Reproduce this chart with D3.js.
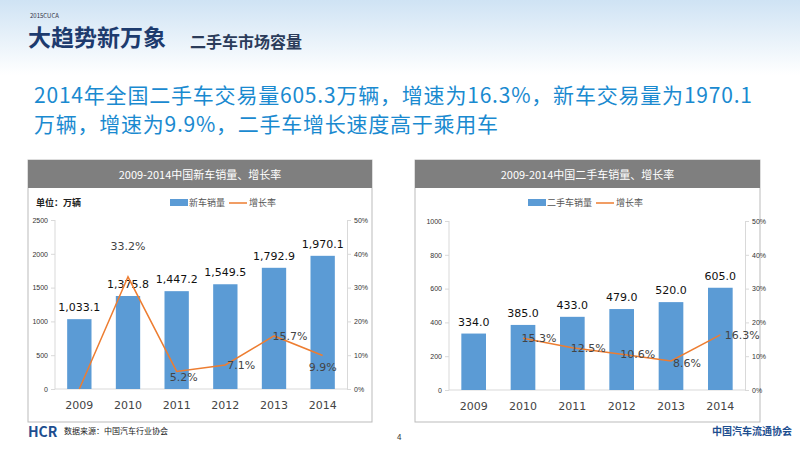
<!DOCTYPE html>
<html><head><meta charset="utf-8">
<script src="https://cdn.jsdelivr.net/npm/d3@7"></script>
<style>body{margin:0;background:#fff;font-family:"Noto Sans CJK SC","Noto Sans",sans-serif;}</style>
</head><body><svg id="c" width="800" height="450"></svg>
<script>
const years = ["2009", "2010", "2011", "2012", "2013", "2014"];
const newSales = [1033.1, 1375.8, 1447.2, 1549.5, 1792.9, 1970.1];
const newGrowth = [0, 33.2, 5.2, 7.1, 15.7, 9.9];
const newGrowthLabels = [null, "33.2%", "5.2%", "7.1%", "15.7%", "9.9%"];
const usedSales = [334.0, 385.0, 433.0, 479.0, 520.0, 605.0];
const usedGrowth = [null, 15.3, 12.5, 10.6, 8.6, 16.3];
const usedGrowthLabels = [null, "15.3%", "12.5%", "10.6%", "8.6%", "16.3%"];

const svg = d3.select("#c");
const font = '"Noto Sans CJK SC",sans-serif';

// top banner
const defs = svg.append("defs");
const g1 = defs.append("linearGradient").attr("id", "ban").attr("x1", 0).attr("y1", 0).attr("x2", 0).attr("y2", 1);
g1.append("stop").attr("offset", 0).attr("stop-color", "#cfe3f4");
g1.append("stop").attr("offset", 1).attr("stop-color", "#ffffff");
svg.append("rect").attr("width", 800).attr("height", 75).attr("fill", "url(#ban)");
svg.append("text").attr("x", 30).attr("y", 18).attr("font-size", 6).attr("fill", "#334").text("2015CUCA");
svg.append("text").attr("x", 28).attr("y", 46).attr("font-size", 23).attr("font-weight", "bold")
  .attr("fill", "#1d3b6e").attr("font-family", font).text("大趋势新万象");
svg.append("text").attr("x", 190).attr("y", 48).attr("font-size", 16).attr("font-weight", "bold")
  .attr("fill", "#2b3c5a").attr("font-family", font).text("二手车市场容量");

svg.append("text").attr("x", 34).attr("y", 103).attr("font-size", 21).attr("fill", "#1a8ad0")
  .attr("font-family", font).attr("textLength", 718).text("2014年全国二手车交易量605.3万辆，增速为16.3%，新车交易量为1970.1");
svg.append("text").attr("x", 34).attr("y", 132).attr("font-size", 21).attr("fill", "#1a8ad0")
  .attr("font-family", font).attr("textLength", 464).text("万辆，增速为9.9%，二手车增长速度高于乘用车");

function panel(o) {
  const g = svg.append("g");
  g.append("rect").attr("x", o.x0).attr("y", 160).attr("width", o.x1 - o.x0).attr("height", 262)
    .attr("fill", "#fff").attr("stroke", "#bbb");
  g.append("rect").attr("x", o.x0).attr("y", 160).attr("width", o.x1 - o.x0).attr("height", 28).attr("fill", "#7f7f7f");
  g.append("text").attr("x", (o.x0 + o.x1) / 2).attr("y", 179).attr("text-anchor", "middle")
    .attr("fill", "#fff").attr("font-size", 11).attr("font-family", font).text(o.title);

  const x = d3.scaleBand().domain(years).range([o.l, o.r]).paddingInner(0.5).paddingOuter(0.25);
  const y = d3.scaleLinear().domain([0, o.max]).range([o.bottom, o.top]);
  const y2 = d3.scaleLinear().domain([0, 50]).range([o.bottom, o.top]);

  const ax = g.append("g").attr("transform", `translate(${o.l},0)`)
    .call(d3.axisLeft(y).ticks(5).tickSize(4).tickSizeOuter(0).tickFormat(d3.format("d")));
  const ax2 = g.append("g").attr("transform", `translate(${o.r},0)`)
    .call(d3.axisRight(y2).ticks(5).tickSize(4).tickSizeOuter(0).tickFormat(d => d + "%"));
  [ax, ax2].forEach(a => {
    a.selectAll("line,path").attr("stroke", "#d9d9d9");
    a.selectAll("text").attr("font-size", 7).attr("fill", "#333").attr("font-family", "Liberation Sans");
  });
  ax.select(".domain").remove();
  g.append("line").attr("x1", o.l).attr("x2", o.l).attr("y1", o.top).attr("y2", o.bottom).attr("stroke", "#d9d9d9");
  g.append("line").attr("x1", o.l).attr("x2", o.r).attr("y1", o.bottom).attr("y2", o.bottom).attr("stroke", "#d9d9d9");

  g.selectAll(".bar").data(o.sales).join("rect")
    .attr("x", (d, i) => x(years[i])).attr("y", d => y(d))
    .attr("width", x.bandwidth()).attr("height", d => o.bottom - y(d)).attr("fill", "#5b9bd5");
  g.selectAll(".bl").data(o.sales).join("text")
    .attr("x", (d, i) => x(years[i]) + x.bandwidth() / 2).attr("y", d => y(d) - 8)
    .attr("text-anchor", "middle").attr("font-size", 11).attr("fill", "#111").attr("font-family", "DejaVu Sans")
    .text(d => d3.format(",.1f")(d));

  const pts = o.growth.map((v, i) => [v, i]).filter(p => p[0] != null);
  g.append("path").datum(pts).attr("fill", "none").attr("stroke", "#ed7d31").attr("stroke-width", 1.5)
    .attr("d", d3.line().x(p => x(years[p[1]]) + x.bandwidth() / 2).y(p => y2(p[0])));
  o.growth.forEach((v, i) => {
    if (!o.labels[i]) return;
    const off = o.off[i];
    g.append("text").attr("x", x(years[i]) + x.bandwidth() / 2 + off[0]).attr("y", y2(v) + off[1])
      .attr("text-anchor", "middle").attr("font-size", 11).attr("fill", "#444").attr("font-family", "DejaVu Sans")
      .text(o.labels[i]);
  });

  years.forEach(yr => g.append("text").attr("x", x(yr) + x.bandwidth() / 2).attr("y", o.bottom + 20)
    .attr("text-anchor", "middle").attr("font-size", 11).attr("fill", "#444").attr("font-family", "DejaVu Sans").text(yr));

  // legend
  const lg = g.append("g").attr("transform", `translate(${o.legX},203)`);
  lg.append("rect").attr("x", 0).attr("y", -4).attr("width", 18).attr("height", 7).attr("fill", "#5b9bd5");
  lg.append("text").attr("x", 19).attr("y", 3).attr("font-size", 9).attr("fill", "#555").attr("font-family", font).text(o.legName);
  const lx = 19 + o.legName.length * 9 + 4;
  lg.append("line").attr("x1", lx).attr("x2", lx + 18).attr("y1", 0).attr("y2", 0).attr("stroke", "#ed7d31").attr("stroke-width", 1.5);
  lg.append("text").attr("x", lx + 20).attr("y", 3).attr("font-size", 9).attr("fill", "#555").attr("font-family", font).text("增长率");
  if (o.unit) g.append("text").attr("x", 36).attr("y", 206).attr("font-size", 9).attr("font-weight", "bold")
    .attr("fill", "#222").attr("font-family", font).text(o.unit);
}

panel({ x0: 28, x1: 372, l: 55, r: 347, top: 220, bottom: 389, max: 2500, sales: newSales, growth: newGrowth,
  labels: newGrowthLabels, title: "2009-2014中国新车销量、增长率", legName: "新车销量", legX: 170, unit: "单位：万辆",
  off: [[0,0],[0,-27],[7,10],[16,4],[16,4],[0,15]] });
panel({ x0: 415, x1: 760, l: 449, r: 745, top: 221, bottom: 390, max: 1000, sales: usedSales, growth: usedGrowth,
  labels: usedGrowthLabels, title: "2009-2014中国二手车销量、增长率", legName: "二手车销量", legX: 528,
  off: [[0,0],[16,4],[16,4],[16,4],[16,6],[22,4]] });

svg.append("text").attr("x", 28).attr("y", 437).attr("font-size", 14).attr("font-weight", "bold").attr("fill", "#1d4e8f").text("HCR");
svg.append("text").attr("x", 64).attr("y", 434).attr("font-size", 8).attr("fill", "#222").attr("font-family", font).text("数据来源：中国汽车行业协会");
svg.append("text").attr("x", 397).attr("y", 440).attr("font-size", 8).attr("fill", "#333").text("4");
svg.append("text").attr("x", 712).attr("y", 435).attr("font-size", 10).attr("font-weight", "bold").attr("fill", "#1d4e8f").attr("font-family", font).text("中国汽车流通协会");
</script></body></html>
